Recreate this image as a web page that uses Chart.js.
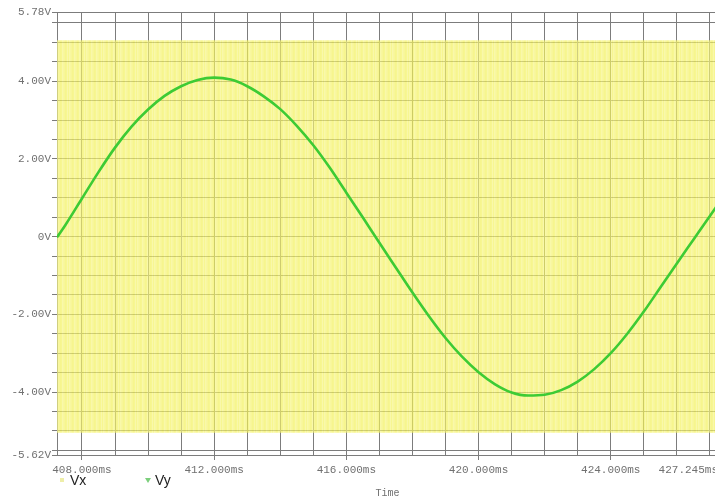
<!DOCTYPE html>
<html>
<head>
<meta charset="utf-8">
<script src="https://cdn.jsdelivr.net/npm/chart.js@4.4.1/dist/chart.umd.min.js"></script>
<style>
  html, body { margin: 0; padding: 0; background: #fff; overflow: hidden; }
  #wrap { position: relative; width: 715px; height: 501px; overflow: hidden; }
  #plot { position: absolute; left: 0; top: 0; }
  .lg { position: absolute; top: 471px; font-family: "Liberation Sans", Arial, sans-serif; font-size: 14px; line-height: 18px; color: #222; }
  .mk-vx { position: absolute; left: 60px; top: 478px; width: 4px; height: 4px; background: #eeeea8; }
  .mk-vy { position: absolute; left: 145px; top: 478px; width: 0; height: 0;
           border-left: 3px solid transparent; border-right: 3px solid transparent; border-top: 5px solid #7ccf7c; }
</style>
</head>
<body>
<div id="wrap">
  <canvas id="plot" width="722" height="501"></canvas>
  <span class="mk-vx"></span><span class="lg" style="left:70px">Vx</span>
  <span class="mk-vy"></span><span class="lg" style="left:155px">Vy</span>
</div>
<script>
// time window (ms)
const timeStart = 407.245;
const timeEnd = 427.245;

// Vx: fast signal, shows as a solid band between its upper and lower swing
const vxTimes = [407.245, 427.245];
const vxHigh = [5.05, 5.05];
const vxLow = -5.05;

// Vy: slow sine
const vyTimes = [407.245, 407.5, 408, 408.5, 409, 409.5, 410, 410.5, 411, 411.5,
                 412, 412.5, 413, 413.5, 414, 414.5, 415, 415.5, 416, 416.5,
                 417, 417.5, 418, 418.5, 419, 419.5, 420, 420.5, 421, 421.5,
                 422, 422.5, 423, 423.5, 424, 424.5, 425, 425.5, 426, 426.5,
                 427, 427.245];
const vyValues = [-0.02, 0.30, 0.98, 1.66, 2.29, 2.83, 3.27, 3.62, 3.87, 4.03,
                  4.09, 4.04, 3.87, 3.61, 3.28, 2.85, 2.35, 1.77, 1.13, 0.49,
                  -0.16, -0.80, -1.44, -2.05, -2.61, -3.09, -3.49, -3.80, -4.01, -4.09,
                  -4.07, -3.95, -3.73, -3.41, -3.00, -2.50, -1.93, -1.31, -0.69, -0.08,
                  0.53, 0.83];

// axis ticks
const xGrid = [407.245, 408, 409, 410, 411, 412, 413, 414, 415, 416, 417, 418, 419,
               420, 421, 422, 423, 424, 425, 426, 427, 427.245];
const xLabelValues = [408, 412, 416, 420, 424, 427.245];
const xLabelTexts = ['408.000ms', '412.000ms', '416.000ms', '420.000ms', '424.000ms', '427.245ms'];

const yGrid = [-5.62, -5.5, -5, -4.5, -4, -3.5, -3, -2.5, -2, -1.5, -1, -0.5, 0,
               0.5, 1, 1.5, 2, 2.5, 3, 3.5, 4, 4.5, 5, 5.5, 5.78];
const yLabelValues = [-5.62, -4, -2, 0, 2, 4, 5.78];
const yLabelTexts = ['-5.62V', '-4.00V', '-2.00V', '0V', '2.00V', '4.00V', '5.78V'];

function labelFor(values, texts, v) {
    let i = values.findIndex(a => Math.abs(a - v) < 1e-6);
    return i >= 0 ? texts[i] : '';
}

// streaky yellow fill for the Vx band
function stripes(ctx) {
    let c = document.createElement('canvas');
    c.width = 17; c.height = 4;
    let g = c.getContext('2d');
    let cols = ['rgba(243,241,95,0.68)', 'rgba(245,243,115,0.68)', 'rgba(242,240,88,0.68)',
                'rgba(246,245,130,0.68)', 'rgba(244,242,105,0.68)'];
    for (let i = 0; i < 17; i++) {
        g.fillStyle = cols[(i * 3) % cols.length];
        g.fillRect(i, 0, 1, 4);
    }
    return ctx.createPattern(c, 'repeat');
}

const gridCol = '#7c7c7c';
const tickFont = { family: '"Liberation Mono", "DejaVu Sans Mono", monospace', size: 11 };

let ctx = document.getElementById('plot').getContext('2d');
let chart = new Chart(ctx, {
    type: 'line',
    data: {
        datasets: [{
            label: 'Vy',
            data: vyTimes.map((t, i) => ({ x: t, y: vyValues[i] })),
            borderColor: '#3dcb34',
            borderWidth: 2.6,
            pointRadius: 0,
            cubicInterpolationMode: 'monotone',
            fill: false,
            order: 0
        }, {
            label: 'Vx',
            data: vxTimes.map((t, i) => ({ x: t, y: vxHigh[i] })),
            borderColor: 'rgba(0,0,0,0)',
            borderWidth: 0,
            pointRadius: 0,
            backgroundColor: stripes(ctx),
            fill: { value: vxLow },
            order: 1
        }]
    },
    options: {
        responsive: false,
        animation: false,
        events: [],
        layout: { padding: { top: 12, right: 4, bottom: 0, left: 0 } },
        plugins: {
            legend: { display: false },
            tooltip: { enabled: false }
        },
        scales: {
            x: {
                type: 'linear',
                min: timeStart,
                max: timeEnd,
                afterBuildTicks: s => { s.ticks = xGrid.map(v => ({ value: v })); },
                afterFit: s => { s.height = 46; },
                grid: {
                    color: gridCol,
                    lineWidth: 1,
                    tickLength: 5,
                    tickColor: c => labelFor(xLabelValues, xLabelTexts, c.tick.value) ? gridCol : 'rgba(0,0,0,0)'
                },
                border: { color: gridCol },
                ticks: {
                    autoSkip: false,
                    maxRotation: 0,
                    align: 'inner',
                    padding: 3,
                    color: '#707070',
                    font: tickFont,
                    callback: v => labelFor(xLabelValues, xLabelTexts, v)
                },
                title: {
                    display: true,
                    text: 'Time',
                    color: '#707070',
                    font: { family: '"Liberation Mono", monospace', size: 10 },
                    padding: { top: 0, bottom: 2 }
                }
            },
            y: {
                min: -5.62,
                max: 5.78,
                afterBuildTicks: s => { s.ticks = yGrid.map(v => ({ value: v })); },
                afterFit: s => { s.width = 57; },
                grid: { color: gridCol, lineWidth: 1, tickLength: 5, tickColor: gridCol },
                border: { color: gridCol },
                ticks: {
                    autoSkip: false,
                    padding: 1,
                    color: '#707070',
                    font: tickFont,
                    callback: v => labelFor(yLabelValues, yLabelTexts, v)
                }
            }
        }
    }
});
</script>
</body>
</html>
